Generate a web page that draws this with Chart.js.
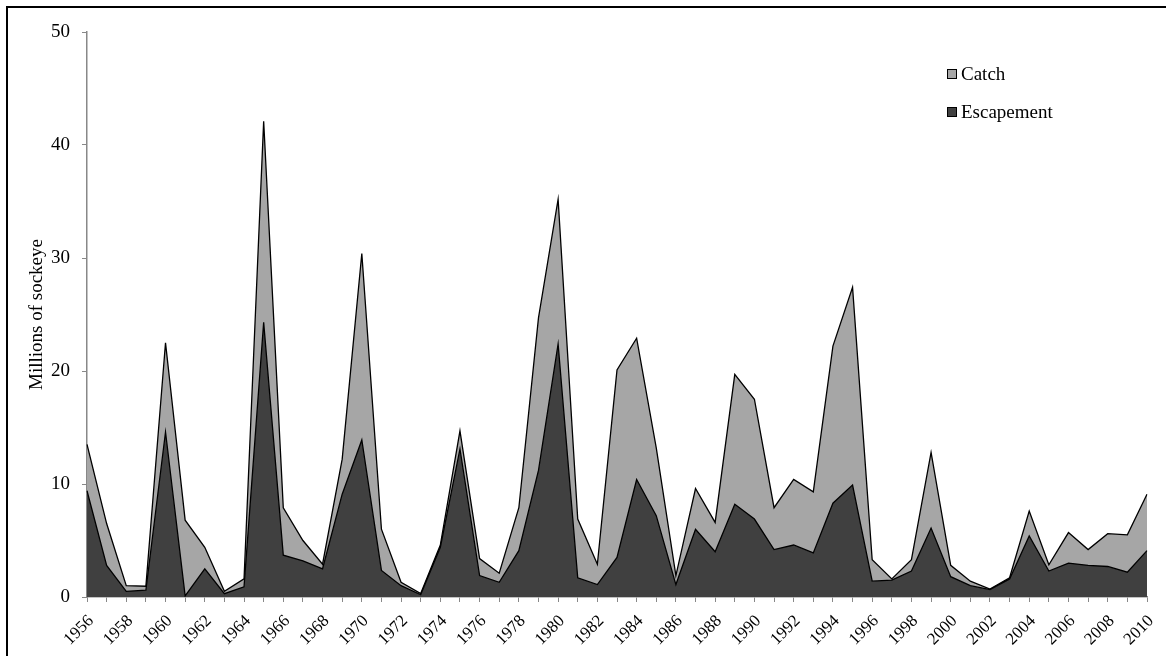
<!DOCTYPE html>
<html>
<head>
<meta charset="utf-8">
<script src="https://cdn.jsdelivr.net/npm/chart.js@4.4.1/dist/chart.umd.min.js"></script>
<style>
  html, body { margin: 0; padding: 0; background: #fff; }
  #wrap { position: relative; width: 1166px; height: 656px; overflow: hidden; }
  #frame { position: absolute; left: 6px; top: 6px; width: 1170px; height: 670px; border: 2px solid #000; box-sizing: border-box; pointer-events: none; }
  canvas { position: absolute; left: 0; top: 0; }
</style>
</head>
<body>
<div id="wrap">
  <canvas id="salmonChart" width="1166" height="656"></canvas>
  <div id="frame"></div>
</div>
<script>
const years = [];
for (let y = 1956; y <= 2010; y++) years.push(String(y));

// escapement (millions)
const escapement = [
  9.4, 2.8, 0.5, 0.6, 14.6, 0.1, 2.5, 0.3, 0.9, 24.3,
  3.7, 3.2, 2.5, 9.1, 13.9, 2.35, 1.0, 0.2, 4.4, 13.1,
  1.9, 1.3, 4.1, 11.2, 22.4, 1.7, 1.1, 3.5, 10.4, 7.2,
  1.1, 6.0, 4.0, 8.2, 6.9, 4.2, 4.6, 3.9, 8.3, 9.9,
  1.4, 1.5, 2.3, 6.1, 1.8, 1.0, 0.65, 1.6, 5.4, 2.3,
  3.0, 2.8, 2.7, 2.2, 4.1
];

// catch (millions) stacked on top of escapement
const catchVals = [
  4.1, 3.7, 0.5, 0.35, 7.9, 6.7, 1.9, 0.2, 0.7, 17.8,
  4.2, 1.8, 0.4, 3.1, 16.5, 3.65, 0.3, 0.1, 0.2, 1.6,
  1.5, 0.8, 3.8, 13.5, 12.8, 5.2, 1.8, 16.6, 12.5, 6.0,
  0.8, 3.6, 2.6, 11.5, 10.6, 3.7, 5.8, 5.4, 13.9, 17.5,
  1.9, 0.1, 1.0, 6.7, 1.0, 0.4, 0.05, 0.1, 2.2, 0.55,
  2.7, 1.4, 2.9, 3.3, 5.0
];

const yTicks = [0, 10, 20, 30, 40, 50];

const serif = "'Liberation Serif', 'Times New Roman', serif";

const boxLegend = {
  id: 'boxLegend',
  afterDraw(chart) {
    const ctx = chart.ctx;
    const items = [chart.data.datasets[1], chart.data.datasets[0]];
    ctx.save();
    ctx.font = '19px ' + serif;
    ctx.textBaseline = 'middle';
    items.forEach((ds, i) => {
      const y = 74 + i * 38;
      ctx.fillStyle = ds.backgroundColor;
      ctx.fillRect(947, y - 5, 10, 10);
      ctx.strokeStyle = '#000';
      ctx.lineWidth = 1;
      ctx.strokeRect(947.5, y - 4.5, 9, 9);
      ctx.fillStyle = '#000';
      ctx.fillText(ds.label, 961, y + 1);
    });
    ctx.restore();
  }
};

new Chart(document.getElementById('salmonChart').getContext('2d'), {
  type: 'line',
  data: {
    labels: years,
    datasets: [
      {
        label: 'Escapement',
        data: escapement,
        backgroundColor: '#404040',
        borderColor: '#000',
        borderWidth: 1.3,
        fill: 'origin',
        pointRadius: 0,
        tension: 0
      },
      {
        label: 'Catch',
        data: catchVals,
        backgroundColor: '#a6a6a6',
        borderColor: '#000',
        borderWidth: 1.3,
        fill: '-1',
        pointRadius: 0,
        tension: 0
      }
    ]
  },
  options: {
    responsive: false,
    animation: false,
    layout: { padding: { left: 8, right: 19, top: 32, bottom: 0 } },
    plugins: {
      legend: { display: false },
      tooltip: { enabled: false }
    },
    scales: {
      x: {
        offset: false,
        grid: { drawOnChartArea: false, tickLength: 5, color: '#888' },
        border: { color: '#888', width: 1.5 },
        ticks: {
          autoSkip: false,
          maxRotation: 45,
          minRotation: 45,
          padding: 9,
          labelOffset: 4,
          color: '#000',
          font: { family: serif, size: 17 },
          callback: function (v, i) { return i % 2 === 0 ? this.getLabelForValue(v) : ''; }
        },
        afterFit(scale) {
          scale.height = 59;
          scale.paddingLeft = 0;
          scale.paddingRight = 0;
        }
      },
      y: {
        stacked: true,
        min: 0,
        max: 50,
        afterBuildTicks(scale) { scale.ticks = yTicks.map(v => ({ value: v })); },
        grid: { drawOnChartArea: false, tickLength: 5, color: '#888' },
        border: { color: '#888', width: 1.5 },
        ticks: {
          padding: 12,
          color: '#000',
          font: { family: serif, size: 19 }
        },
        title: {
          display: true,
          text: 'Millions of sockeye',
          color: '#000',
          font: { family: serif, size: 19 },
          padding: { top: 18, bottom: 0 }
        },
        afterFit(scale) {
          scale.width = 79;
          scale.paddingTop = 0;
          scale.paddingBottom = 0;
        }
      }
    }
  },
  plugins: [boxLegend]
});
</script>
</body>
</html>
